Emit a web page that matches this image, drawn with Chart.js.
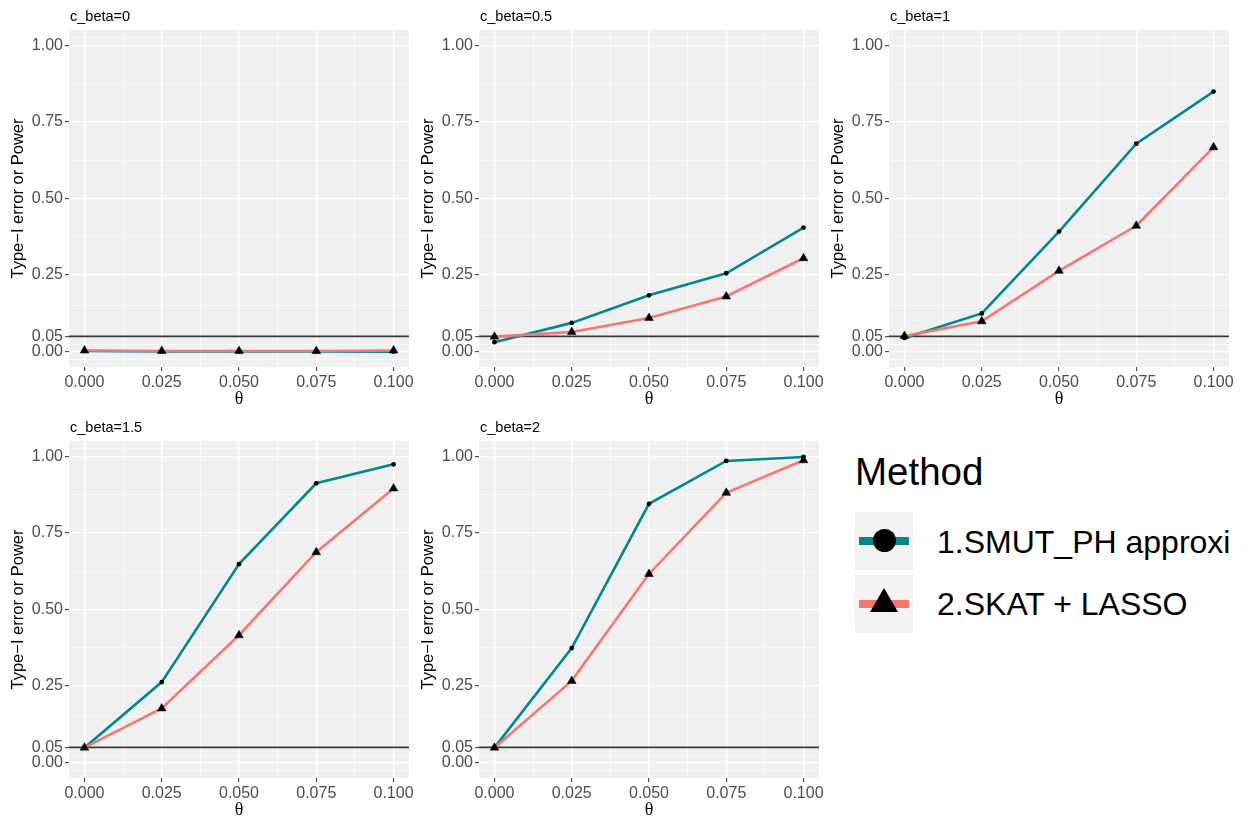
<!DOCTYPE html>
<html>
<head>
<meta charset="utf-8">
<script src="https://cdn.jsdelivr.net/npm/chart.js@4.4.1/dist/chart.umd.min.js"></script>
<style>
  body { margin: 0; background: #ffffff; font-family: "Liberation Sans", Arial, sans-serif; }
  #page { position: relative; width: 1251px; height: 821px; overflow: hidden; }
  canvas { position: absolute; }
  .legend-title { position: absolute; left: 855px; top: 453px; font-size: 38.5px; line-height: 1; color: #000; }
  .legend-key { position: absolute; left: 855px; width: 58px; height: 58px; background: #F2F2F2; }
  .legend-label { position: absolute; left: 937px; font-size: 32px; line-height: 1; color: #000; white-space: nowrap; }
  .bar { position: absolute; left: 4px; width: 50px; top: 25px; height: 8px; }
  .dot { position: absolute; left: 18px; top: 17px; width: 23px; height: 23px; border-radius: 50%; background: #000; }
  .tri { position: absolute; left: 15px; top: 13px; width: 0; height: 0;
         border-left: 14.5px solid transparent; border-right: 14.5px solid transparent; border-bottom: 24px solid #000; }
</style>
</head>
<body>
<div id="page">
  <canvas id="p1" width="412" height="410" style="left:7px;top:0px"></canvas>
  <canvas id="p2" width="412" height="410" style="left:417px;top:0px"></canvas>
  <canvas id="p3" width="412" height="410" style="left:827px;top:0px"></canvas>
  <canvas id="p4" width="412" height="410" style="left:7px;top:411px"></canvas>
  <canvas id="p5" width="412" height="410" style="left:417px;top:411px"></canvas>

  <div class="legend-title">Method</div>
  <div class="legend-key" style="top:512px"><div class="bar" style="background:#00898C"></div><div class="dot"></div></div>
  <div class="legend-key" style="top:575px"><div class="bar" style="background:#F8766D"></div><div class="tri"></div></div>
  <div class="legend-label" style="top:526px">1.SMUT_PH approxi</div>
  <div class="legend-label" style="top:588px">2.SKAT + LASSO</div>
</div>

<script>
// theta values on the x axis
const thetas = [0, 0.025, 0.05, 0.075, 0.1];

// panel titles
const panelTitles = ['c_beta=0', 'c_beta=0.5', 'c_beta=1', 'c_beta=1.5', 'c_beta=2'];

// 1.SMUT_PH approxi, one array per panel
const smut_cb0  = [0.002, 0.001, 0.001, 0.001, 0.000];
const smut_cb05 = [0.031, 0.094, 0.184, 0.256, 0.405];
const smut_cb1  = [0.045, 0.125, 0.392, 0.679, 0.849];
const smut_cb15 = [0.049, 0.263, 0.648, 0.912, 0.974];
const smut_cb2  = [0.049, 0.374, 0.845, 0.985, 0.998];

// 2.SKAT + LASSO, one array per panel
const skat_cb0  = [0.004, 0.002, 0.002, 0.002, 0.004];
const skat_cb05 = [0.049, 0.064, 0.110, 0.180, 0.305];
const skat_cb1  = [0.051, 0.099, 0.264, 0.411, 0.667];
const skat_cb15 = [0.049, 0.177, 0.416, 0.687, 0.895];
const skat_cb2  = [0.049, 0.267, 0.616, 0.881, 0.987];

// axis ticks (major get labels, minor only grid lines)
const xMajorTicks = [0, 0.025, 0.05, 0.075, 0.1];
const xMinorTicks = [0.0125, 0.0375, 0.0625, 0.0875];
const yMajorTicks = [0, 0.05, 0.25, 0.5, 0.75, 1];
const yMinorTicks = [-0.025, 0.025, 0.15, 0.375, 0.625, 0.875, 1.025];

// nominal level line
const alphaLevel = 0.05;

const smutSeries = [smut_cb0, smut_cb05, smut_cb1, smut_cb15, smut_cb2];
const skatSeries = [skat_cb0, skat_cb05, skat_cb1, skat_cb15, skat_cb2];

const TEAL = '#00898C';
const SALMON = '#F8766D';
const PANEL_BG = '#F0F0F0';

// ggplot-like panel: grey background, reference line, facet title
const ggPanel = {
    id: 'ggPanel',
    beforeDraw(chart) {
        const a = chart.chartArea;
        const ctx = chart.ctx;
        ctx.save();
        ctx.fillStyle = PANEL_BG;
        ctx.fillRect(a.left, a.top, a.right - a.left, a.bottom - a.top);
        ctx.restore();
    },
    beforeDatasetsDraw(chart) {
        const a = chart.chartArea;
        const ctx = chart.ctx;
        const y = chart.scales.y.getPixelForValue(alphaLevel);
        ctx.save();
        ctx.strokeStyle = '#3a3a3a';
        ctx.lineWidth = 1.6;
        ctx.beginPath();
        ctx.moveTo(a.left, y);
        ctx.lineTo(a.right, y);
        ctx.stroke();
        ctx.restore();
    },
    afterDraw(chart) {
        const a = chart.chartArea;
        const ctx = chart.ctx;
        ctx.save();
        ctx.fillStyle = '#000';
        ctx.font = '14.5px "Liberation Sans", Arial, sans-serif';
        ctx.textBaseline = 'alphabetic';
        ctx.fillText(chart.options.panelTitle, a.left + 1, a.top - 9);
        ctx.restore();
    }
};

function makeScale(majors, minors, min, max, digits, title, isX) {
    const all = majors.concat(minors).sort((a, b) => a - b);
    return {
        type: 'linear',
        min: min,
        max: max,
        border: { display: false },
        afterBuildTicks: scale => {
            scale.ticks = all.map(v => ({ value: v }));
        },
        afterFit: scale => {
            if (isX) scale.height = 43;
            else scale.width = 62;
        },
        grid: {
            color: '#FFFFFF',
            lineWidth: ctx => (ctx.tick && majors.includes(ctx.tick.value)) ? 1.3 : 0.6,
            tickColor: ctx => (ctx.tick && majors.includes(ctx.tick.value)) ? '#333333' : 'rgba(0,0,0,0)',
            tickLength: 4,
            tickWidth: 1,
            drawTicks: true
        },
        ticks: {
            autoSkip: false,
            maxRotation: 0,
            padding: 2,
            color: '#4D4D4D',
            font: { family: '"Liberation Sans", Arial, sans-serif', size: 16 },
            callback: value => majors.includes(value) ? value.toFixed(digits) : ''
        },
        title: {
            display: true,
            text: title,
            color: '#000',
            padding: isX ? { top: 0, bottom: 0 } : { top: 2, bottom: 0 },
            font: isX
                ? { family: '"Liberation Serif", "DejaVu Serif", serif', size: 18 }
                : { family: '"Liberation Sans", Arial, sans-serif', size: 16.5 }
        }
    };
}

['p1', 'p2', 'p3', 'p4', 'p5'].forEach((id, i) => {
    new Chart(document.getElementById(id), {
        type: 'line',
        data: {
            datasets: [
                {
                    label: '1.SMUT_PH approxi',
                    data: thetas.map((t, k) => ({ x: t, y: smutSeries[i][k] })),
                    borderColor: TEAL,
                    borderWidth: 2.6,
                    pointStyle: 'circle',
                    pointRadius: 2.4,
                    pointBackgroundColor: '#000',
                    pointBorderWidth: 0,
                    order: 1
                },
                {
                    label: '2.SKAT + LASSO',
                    data: thetas.map((t, k) => ({ x: t, y: skatSeries[i][k] })),
                    borderColor: SALMON,
                    borderWidth: 2.6,
                    pointStyle: 'triangle',
                    pointRadius: 5,
                    pointBackgroundColor: '#000',
                    pointBorderColor: '#000',
                    pointBorderWidth: 0.5,
                    order: 0
                }
            ]
        },
        options: {
            panelTitle: panelTitles[i],
            responsive: false,
            animation: false,
            devicePixelRatio: 1,
            layout: { padding: { top: 30, right: 10, left: 0, bottom: 0 } },
            plugins: {
                legend: { display: false },
                tooltip: { enabled: false }
            },
            scales: {
                x: makeScale(xMajorTicks, xMinorTicks, -0.005, 0.105, 3, 'θ', true),
                y: makeScale(yMajorTicks, yMinorTicks, -0.05, 1.05, 2, 'Type\u2212I error or Power', false)
            }
        },
        plugins: [ggPanel]
    });
});
</script>
</body>
</html>
